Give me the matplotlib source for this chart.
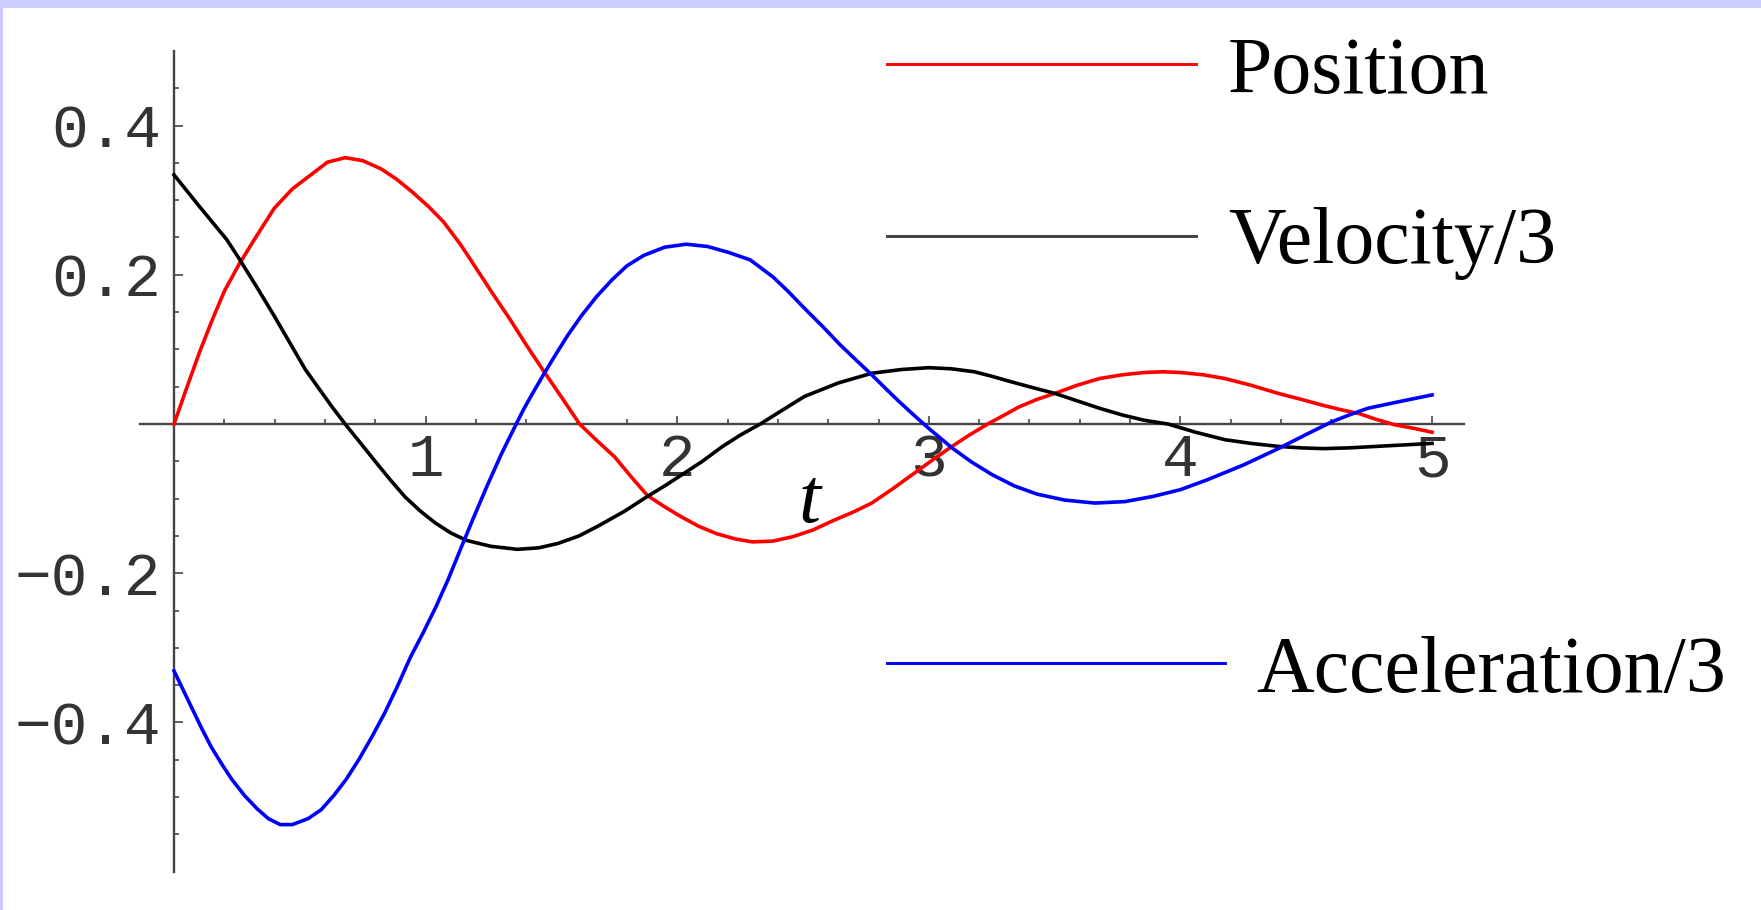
import numpy as np
import matplotlib
matplotlib.use("Agg")
import matplotlib.pyplot as plt
from matplotlib.patches import Rectangle
from matplotlib.lines import Line2D

# ------------------------------
# Damped oscillator samples
# ------------------------------
t_pos = [0, 0.05, 0.1, 0.15, 0.2, 0.26, 0.33, 0.398, 0.47, 0.54, 0.61, 0.681,
         0.75, 0.823, 0.885, 0.947, 1.01, 1.071, 1.14, 1.212, 1.27, 1.336,
         1.40, 1.469, 1.54, 1.612, 1.68, 1.751, 1.82, 1.882, 1.95, 2.014,
         2.085, 2.156, 2.23, 2.298, 2.38, 2.46, 2.54, 2.623, 2.70, 2.773,
         2.86, 2.95, 3.02, 3.092, 3.16, 3.234, 3.30, 3.359, 3.43, 3.501,
         3.59, 3.679, 3.77, 3.856, 3.93, 4.0, 4.09, 4.176, 4.28, 4.389, 4.48,
         4.567, 4.64, 4.709, 4.78, 4.851, 4.93, 5.0]
position = [0, 0.048, 0.095, 0.138, 0.178, 0.215, 0.253, 0.289, 0.315, 0.333,
            0.351, 0.357, 0.353, 0.342, 0.328, 0.311, 0.292, 0.271, 0.240,
            0.203, 0.173, 0.140, 0.106, 0.071, 0.036, 0.0, -0.022, -0.044,
            -0.072, -0.096, -0.111, -0.124, -0.137, -0.147, -0.154, -0.158,
            -0.157, -0.151, -0.142, -0.129, -0.118, -0.106, -0.086, -0.064,
            -0.047, -0.030, -0.015, 0.0, 0.012, 0.023, 0.033, 0.041, 0.052,
            0.061, 0.066, 0.069, 0.070, 0.069, 0.066, 0.061, 0.052, 0.041,
            0.033, 0.025, 0.019, 0.014, 0.006, -0.001, -0.006, -0.011]

t_vel = [0, 0.1, 0.21, 0.26, 0.33, 0.398, 0.46, 0.522, 0.628, 0.68, 0.74,
         0.797, 0.86, 0.919, 0.98, 1.04, 1.10, 1.162, 1.26, 1.365, 1.45,
         1.527, 1.61, 1.69, 1.79, 1.882, 1.95, 2.014, 2.10, 2.176, 2.25, 2.33,
         2.42, 2.506, 2.64, 2.773, 2.89, 3.0, 3.09, 3.181, 3.25, 3.323, 3.41,
         3.501, 3.59, 3.679, 3.77, 3.856, 3.95, 4.06, 4.176, 4.28, 4.389,
         4.48, 4.567, 4.67, 4.78, 4.89, 5.0]
velocity3 = [0.334, 0.292, 0.247, 0.221, 0.183, 0.145, 0.109, 0.073, 0.023,
             0.0, -0.025, -0.049, -0.075, -0.098, -0.117, -0.133, -0.146,
             -0.156, -0.164, -0.168, -0.166, -0.160, -0.150, -0.136, -0.117,
             -0.097, -0.083, -0.069, -0.050, -0.031, -0.015, 0.0, 0.019, 0.037,
             0.055, 0.068, 0.073, 0.0755, 0.074, 0.070, 0.064, 0.057, 0.049,
             0.041, 0.031, 0.021, 0.012, 0.005, 0.0, -0.011, -0.021, -0.026,
             -0.030, -0.032, -0.033, -0.032, -0.030, -0.028, -0.026]

t_acc = [0, 0.03, 0.067, 0.11, 0.148, 0.19, 0.229, 0.28, 0.331, 0.375, 0.422,
         0.47, 0.533, 0.585, 0.635, 0.685, 0.736, 0.787, 0.838, 0.89, 0.939,
         0.99, 1.041, 1.09, 1.142, 1.19, 1.243, 1.30, 1.36, 1.39, 1.425, 1.47,
         1.513, 1.565, 1.619, 1.68, 1.743, 1.80, 1.867, 1.95, 2.035, 2.12,
         2.204, 2.29, 2.381, 2.44, 2.506, 2.58, 2.648, 2.71, 2.773, 2.83,
         2.879, 2.94, 3.0, 3.05, 3.092, 3.17, 3.252, 3.34, 3.43, 3.54, 3.661,
         3.78, 3.892, 4.0, 4.105, 4.25, 4.389, 4.50, 4.602, 4.67, 4.744,
         4.87, 5.0]
acceleration3 = [-0.331, -0.352, -0.378, -0.408, -0.433, -0.456, -0.476,
                 -0.498, -0.516, -0.529, -0.537, -0.537, -0.529, -0.517,
                 -0.498, -0.476, -0.449, -0.419, -0.387, -0.350, -0.313,
                 -0.280, -0.245, -0.208, -0.165, -0.126, -0.084, -0.041, 0.0,
                 0.020, 0.041, 0.067, 0.091, 0.119, 0.145, 0.171, 0.194, 0.212,
                 0.226, 0.237, 0.241, 0.238, 0.230, 0.220, 0.197, 0.178, 0.155,
                 0.130, 0.106, 0.086, 0.066, 0.047, 0.031, 0.012, -0.006,
                 -0.020, -0.032, -0.051, -0.068, -0.083, -0.094, -0.102, -0.106,
                 -0.104, -0.097, -0.088, -0.075, -0.055, -0.033, -0.014, 0.003,
                 0.012, 0.021, 0.030, 0.039]

x_major = [1, 2, 3, 4, 5]
y_major = [-0.4, -0.2, 0.2, 0.4]
series_labels = ["Position", "Velocity/3", "Acceleration/3"]
series_colors = ["#ff0000", "#000000", "#0000ff"]

# ------------------------------
# Figure and slide frame
# ------------------------------
W, H = 1761, 910
fig = plt.figure(figsize=(W / 100, H / 100), dpi=100)
fig.patch.set_facecolor("white")
fig.add_artist(Rectangle((0, 1 - 8 / H), 1, 8 / H, transform=fig.transFigure,
                         facecolor="#ccccff", edgecolor="none", zorder=0))
fig.add_artist(Rectangle((0, 0), 2.5 / W, 1, transform=fig.transFigure,
                         facecolor="#ccccff", edgecolor="none", zorder=0))

ax = fig.add_axes([140.3 / W, 1 - 871.6 / H, 1323.2 / W, 820.6 / H])
ax.set_xlim(-0.134, 5.125)
ax.set_ylim(-0.6, 0.5)
ax.patch.set_alpha(0)

# axes crossing at the origin
for side in ("top", "right"):
    ax.spines[side].set_visible(False)
ax.spines["left"].set_position(("data", 0))
ax.spines["bottom"].set_position(("data", 0))
for side in ("left", "bottom"):
    ax.spines[side].set_color("#444444")
    ax.spines[side].set_linewidth(1.7)

ax.set_xticks(x_major)
ax.set_xticks([v for v in np.arange(0.2, 5.0, 0.2) if abs(v - round(v)) > 1e-6],
              minor=True)
ax.set_yticks(y_major)
ax.set_yticks([round(v, 2) for v in np.arange(-0.55, 0.5, 0.05)
               if round(v, 2) not in y_major and abs(v) > 1e-6], minor=True)
ax.set_xticklabels([str(v) for v in x_major])
ax.set_yticklabels([f"{v:.1f}".replace("-", "\u2212") for v in y_major])

ax.tick_params(axis="both", which="both", direction="in", color="#555555",
               width=1.3)
ax.tick_params(axis="x", which="major", length=6, pad=6)
ax.tick_params(axis="x", which="minor", length=3.5)
ax.tick_params(axis="y", which="major", length=6.5, pad=9.5)
ax.tick_params(axis="y", which="minor", length=3.5)
for lab in ax.get_xticklabels() + ax.get_yticklabels():
    lab.set_family(["Liberation Mono", "DejaVu Sans Mono"])
    lab.set_fontsize(44)
    lab.set_color("#333333")

# ------------------------------
# Curves
# ------------------------------
for tt, vals, c in zip([t_pos, t_vel, t_acc],
                       [position, velocity3, acceleration3], series_colors):
    ax.plot(tt, vals, color=c, lw=2.6, zorder=3, solid_joinstyle="round")

ax.text(2.524, -0.131, "t", fontsize=57, style="italic",
        family="Liberation Serif", ha="center", va="baseline")

# ------------------------------
# Key on the right
# ------------------------------
key_rows = [  # line start, line end, line y, text x, text baseline (px)
    (887, 1196, 64, 1228, 93),
    (887, 1196, 236, 1228, 263),
    (887, 1225, 663, 1256, 692),
]
key_line_colors = ["#ff0000", "#404040", "#0000ff"]
for (x0, x1, ly, tx, ty), lab, c in zip(key_rows, series_labels, key_line_colors):
    fig.add_artist(Line2D([x0 / W, x1 / W], [1 - ly / H, 1 - ly / H],
                          transform=fig.transFigure, color=c, lw=2.1))
    fig.text(tx / W, 1 - ty / H, lab, fontsize=57.5, family="Liberation Serif",
             ha="left", va="baseline")

fig.savefig("out.png", dpi=100)
